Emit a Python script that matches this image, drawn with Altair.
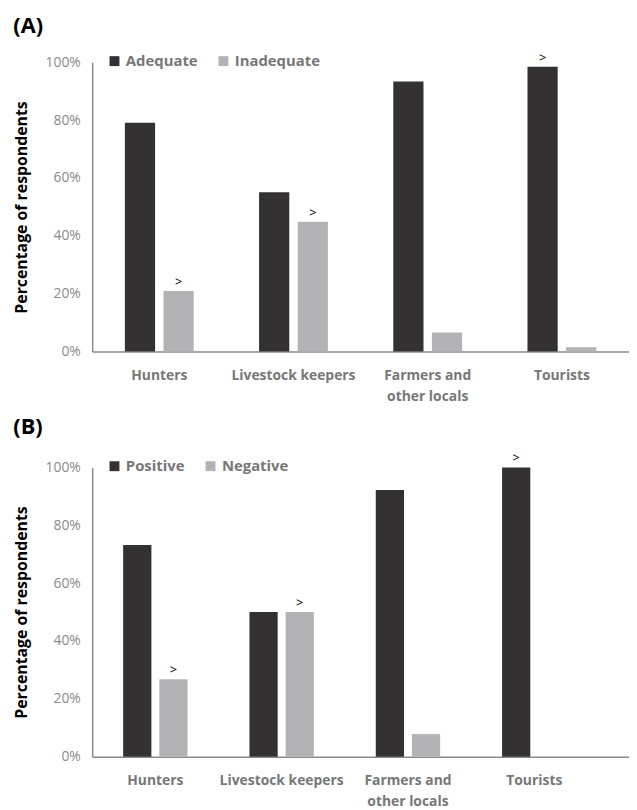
import altair as alt
import pandas as pd

groups = ["Hunters", "Livestock keepers", "Farmers and other locals", "Tourists"]

a_series = ["Adequate", "Inadequate"]
a_first = [79.1, 55.1, 93.4, 98.5]
a_second = [20.9, 44.9, 6.6, 1.5]
a_mark_first = ["", "", "", ">"]
a_mark_second = [">", ">", "", ""]

b_series = ["Positive", "Negative"]
b_first = [73.2, 50.0, 92.2, 100.0]
b_second = [26.8, 50.0, 7.8, 0.0]
b_mark_first = ["", "", "", ">"]
b_mark_second = [">", ">", "", ""]

y_ticks = [0, 20, 40, 60, 80, 100]
colors = ["#333132", "#b3b3b5"]

FONT = "Open Sans"


def build_df(series, first, second, m1, m2):
    rows = []
    for i, g in enumerate(groups):
        rows.append({"group": g, "series": series[0], "value": first[i], "mark": m1[i]})
        rows.append({"group": g, "series": series[1], "value": second[i], "mark": m2[i]})
    return pd.DataFrame(rows)


def panel(df, series, label, pad_outer, bar_w, half_sep):
    x = alt.X("group:N", sort=groups, title=None,
              scale=alt.Scale(paddingInner=0, paddingOuter=pad_outer, align=0),
              axis=alt.Axis(
                  labelAngle=0, labelFontSize=14, labelFontWeight="bold",
                  labelColor="#777777", labelFont=FONT, labelPadding=17,
                  ticks=False, domainColor="#8a8a8a", domainWidth=1.5,
                  labelExpr="datum.label == 'Farmers and other locals' ? ['Farmers and', 'other locals'] : datum.label",
                  labelLineHeight=21))
    y = alt.Y("value:Q", title="Percentage of respondents",
              scale=alt.Scale(domain=[0, 100], nice=False),
              axis=alt.Axis(values=y_ticks, labelExpr="datum.value + '%'",
                            grid=False, ticks=False, labelFontSize=14,
                            labelColor="#8a8a8a", labelFont=FONT, labelPadding=12,
                            titleFont=FONT, titleFontSize=16, titleFontWeight="bold",
                            titleColor="#000000", titlePadding=16,
                            domainColor="#8a8a8a", domainWidth=1.5))
    color = alt.Color("series:N", sort=series,
                      scale=alt.Scale(domain=series, range=colors),
                      legend=alt.Legend(
                          title=None, orient="none", direction="horizontal",
                          legendX=15, legendY=-9, symbolType="square",
                          symbolSize=100, symbolStrokeWidth=0,
                          labelFontSize=15, labelFontWeight="bold",
                          labelColor="#777777", labelFont=FONT,
                          columnPadding=18))
    layers = []
    for s, off in zip(series, [-half_sep, half_sep]):
        base = alt.Chart(df).transform_filter(alt.datum.series == s)
        layers.append(base.mark_bar(width=bar_w, xOffset=off).encode(x=x, y=y, color=color))
        layers.append(base.mark_text(xOffset=off, dy=-9, fontSize=13, color="#000000",
                                     font=FONT).encode(x=x, y=alt.Y("value:Q"), text="mark:N"))
    return alt.layer(*layers).properties(
        width=542, height=292,
        title=alt.TitleParams(label, anchor="start", frame="bounds", fontSize=22,
                              fontWeight="bold", font=FONT, color="#000000",
                              offset=14),
    )


dfa = build_df(a_series, a_first, a_second, a_mark_first, a_mark_second)
dfb = build_df(b_series, b_first, b_second, b_mark_first, b_mark_second)

chart = alt.vconcat(panel(dfa, a_series, "(A)", 0, 30.5, 19.5),
                    panel(dfb, b_series, "(B)", 0.125, 28.5, 18.25),
                    spacing=13).resolve_scale(color="independent").configure_view(
    stroke=None).properties(padding={"left": 5, "top": 3, "right": 0, "bottom": 0},
                            background="white")

chart.save("out.html", embed_options={"renderer": "svg", "actions": False})
